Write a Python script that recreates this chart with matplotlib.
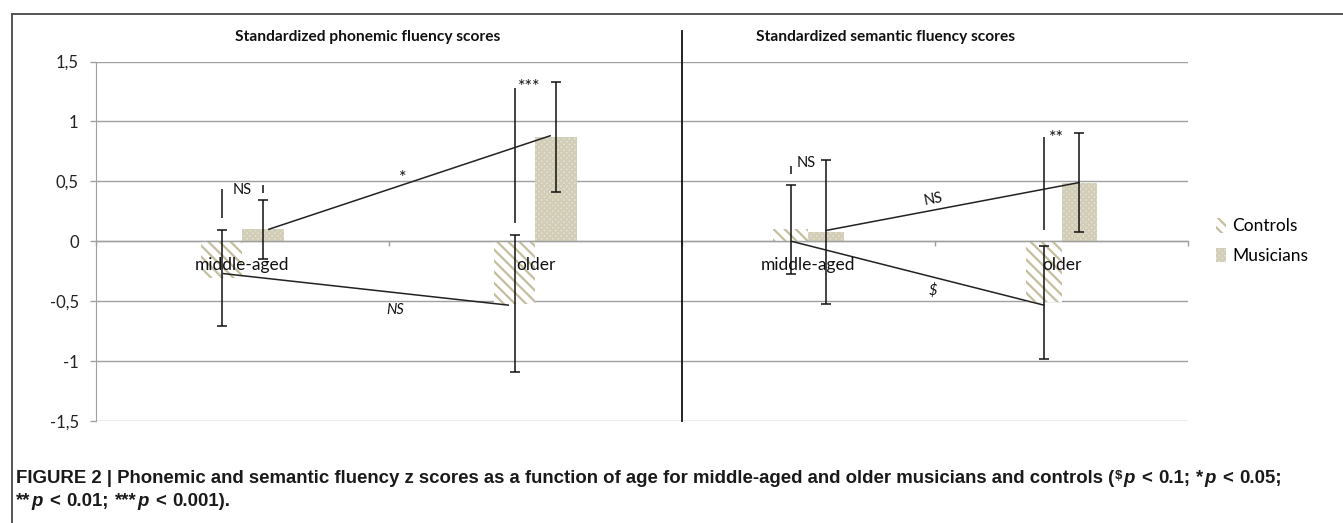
import math
import matplotlib
matplotlib.use("Agg")
import matplotlib.pyplot as plt
from matplotlib import font_manager as fm
from matplotlib.patches import Patch
from matplotlib.lines import Line2D

# ---------------- data ----------------
groups = ["middle-aged", "older"]
series = ["Controls", "Musicians"]
yticks = [-1.5, -1.0, -0.5, 0.0, 0.5, 1.0, 1.5]
ytick_labels = ["-1,5", "-1", "-0,5", "0", "0,5", "1", "1,5"]

phon_title = "Standardized phonemic fluency scores"
phon_controls = [-0.31, -0.52]
phon_musicians = [0.10, 0.87]
phon_controls_err = [0.40, 0.57]
phon_musicians_err = [0.245, 0.455]

sem_title = "Standardized semantic fluency scores"
sem_controls = [0.10, -0.51]
sem_musicians = [0.075, 0.49]
sem_controls_err = [0.37, 0.47]
sem_musicians_err = [0.60, 0.41]

# significance markers between controls and musicians (vertical strokes: series, group, low, high)
phon_sig_strokes = [(0, 0, 0.19, 0.44), (1, 0, 0.40, 0.47), (0, 1, 0.15, 1.28)]
phon_sig_labels = [("NS", 0.0, 0.43, 10.5), ("***", 0.98, 1.29, 13)]
sem_sig_strokes = [(0, 0, 0.56, 0.63), (0, 1, 0.09, 0.87)]
sem_sig_labels = [("NS", -0.01, 0.65, 10.5), ("**", 0.98, 0.86, 13)]

# age-trend lines: (x0, y0, x1, y1), label, label x, label y, italic, rotate, size
phon_trends = [((0.09, 0.10, 1.05, 0.88), "*", 0.548, 0.53, False, False, 13),
               ((-0.065, -0.27, 0.907, -0.533), "NS", 0.522, -0.57, True, False, 10.5)]
sem_trends = [((0.069, 0.09, 1.07, 0.49), "NS", 0.494, 0.35, False, True, 10.5),
              ((-0.068, 0.0, 0.93, -0.533), r"\$", 0.49, -0.41, True, False, 10.5)]

caption_line1 = "FIGURE 2 | Phonemic and semantic fluency z scores as a function of age for middle-aged and older musicians and controls ("

# ---------------- style ----------------
W, H = 1343, 523
FONT = "Lato"
plt.rcParams["font.family"] = [FONT, "DejaVu Sans"]
plt.rcParams["hatch.linewidth"] = 1.6
GRID = "#a0a0a0"
C_EDGE = "#c4be9f"
M_FACE = "#e4e1d1"
M_HATCH = "#d2cdb6"

fig = plt.figure(figsize=(W / 100, H / 100), dpi=100)


def fx(px):
    return px / W


def fy(py):
    return 1 - py / H


top_px, bot_px = 61.5, 421
axL = fig.add_axes([fx(96), fy(bot_px), fx(682) - fx(96), fy(top_px) - fy(bot_px)])
axR = fig.add_axes([fx(682), fy(bot_px), fx(1188) - fx(682), fy(top_px) - fy(bot_px)])

BW = 0.14


def draw_panel(ax, controls, musicians, c_err, m_err, strokes, sig_labels, trends, show_y):
    ax.set_xlim(-0.5, 1.5)
    ax.set_ylim(-1.5, 1.5)
    ax.set_yticks(yticks)
    ax.grid(axis="y", color=GRID, linewidth=1.0, zorder=0)
    ax.set_axisbelow(True)
    for s in ["top", "right"]:
        ax.spines[s].set_visible(False)
    ax.spines["bottom"].set_position(("data", 0))
    ax.spines["bottom"].set_color(GRID)
    ax.spines["bottom"].set_linewidth(1.0)
    ax.set_xticks([-0.5, 0.5, 1.5])
    ax.set_xticklabels([])
    ax.tick_params(axis="x", direction="out", length=3.5, color=GRID, width=1.0)
    if show_y:
        ax.spines["left"].set_color(GRID)
        ax.set_yticklabels(ytick_labels)
        ax.tick_params(axis="y", direction="out", length=4.5, color=GRID, width=1.0,
                       pad=8, labelsize=12, labelcolor="#222222")
    else:
        ax.spines["left"].set_visible(False)
        ax.tick_params(axis="y", length=0, labelleft=False)

    xc = [i - BW / 2 for i in range(len(groups))]
    xm = [i + BW / 2 for i in range(len(groups))]
    ax.bar(xc, controls, BW, facecolor="white", edgecolor=C_EDGE, hatch="\\\\\\",
           linewidth=0, zorder=2)
    ax.bar(xm, musicians, BW, facecolor=M_FACE, edgecolor=M_HATCH, hatch="xxxxxx",
           linewidth=0, zorder=2)
    ek = dict(fmt="none", ecolor="#111111", elinewidth=1.1, capsize=3.3, capthick=1.1, zorder=4)
    ax.errorbar(xc, controls, yerr=c_err, **ek)
    ax.errorbar(xm, musicians, yerr=m_err, **ek)

    for si, gi, lo, hi in strokes:
        x = gi + (-BW / 2 if si == 0 else BW / 2)
        ax.vlines(x, lo, hi, color="#111111", linewidth=1.1, zorder=4)
    for txt, x, y, sz in sig_labels:
        ax.text(x, y, txt, ha="center", va="center", fontsize=sz, color="#111111", zorder=5)

    for i, g in enumerate(groups):
        ax.text(i, -0.2, g, ha="center", va="center", fontsize=12.5, color="#111111", zorder=5)

    for (x0, y0, x1, y1), lab, lx, ly, ital, rot, sz in trends:
        ax.plot([x0, x1], [y0, y1], color="#222222", linewidth=1.1, zorder=4)
        angle = 0
        if rot:
            p0 = ax.transData.transform((x0, y0))
            p1 = ax.transData.transform((x1, y1))
            angle = math.degrees(math.atan2(p1[1] - p0[1], p1[0] - p0[0]))
        ax.text(lx, ly, lab, ha="center", va="center", fontsize=sz,
                style="italic" if ital else "normal", rotation=angle,
                rotation_mode="anchor", color="#111111", zorder=5)


draw_panel(axL, phon_controls, phon_musicians, phon_controls_err, phon_musicians_err,
           phon_sig_strokes, phon_sig_labels, phon_trends, True)
draw_panel(axR, sem_controls, sem_musicians, sem_controls_err, sem_musicians_err,
           sem_sig_strokes, sem_sig_labels, sem_trends, False)

# divider (right chart's value axis)
axR.add_line(Line2D([0, 0], [0, (bot_px - 31) / (bot_px - top_px)], transform=axR.transAxes,
                    color="#111111", linewidth=1.3, clip_on=False, zorder=6))

# titles
fig.text(fx(368), fy(37), phon_title, ha="center", va="center", fontsize=11.2,
         fontweight="bold", color="#111111")
fig.text(fx(885), fy(37), sem_title, ha="center", va="center", fontsize=11.2,
         fontweight="bold", color="#111111")

# legend
handles = [Patch(facecolor="white", edgecolor=C_EDGE, hatch="\\\\\\", linewidth=0),
           Patch(facecolor=M_FACE, edgecolor=M_HATCH, hatch="xxxxxx", linewidth=0)]
fig.legend(handles, series, loc="center left", bbox_to_anchor=(fx(1216), fy(241)),
           frameon=False, fontsize=12.5, handlelength=0.6, handleheight=0.9,
           handletextpad=0.35, labelspacing=0.75, borderpad=0, borderaxespad=0)

# frame of the figure panel
fig.add_artist(Line2D([fx(11.7), 1], [fy(14), fy(14)], color="#555555", linewidth=1.4))
fig.add_artist(Line2D([fx(11.7), fx(11.7)], [fy(14), 0], color="#555555", linewidth=1.4))

# caption with mixed runs
try:
    fm.findfont(fm.FontProperties(family="Liberation Sans Narrow"), fallback_to_default=False)
    CAP_FONT = "Liberation Sans Narrow"
except Exception:
    CAP_FONT = "Liberation Sans"

r = fig.canvas.get_renderer()


def run_width(s, size, style):
    t = fig.text(0, 0, s, fontsize=size, family=CAP_FONT, fontweight="bold", style=style)
    w = t.get_window_extent(r).width
    t.remove()
    return w


def caption_runs(size):
    sup = size * 0.7
    l1 = [(caption_line1, size, "normal", 0, 0), (r"\$", sup, "normal", 4, 0),
          ("p", size, "italic", 0, 0), ("<", size, "normal", 0, 1), ("0.1;", size, "normal", 0, 1),
          ("*", size, "normal", 1, 1), ("p", size, "italic", 0, 0), ("<", size, "normal", 0, 1),
          ("0.05;", size, "normal", 0, 1)]
    l2 = [("**", size, "normal", 1, 0), ("p", size, "italic", 0, 0), ("<", size, "normal", 0, 1),
          ("0.01;", size, "normal", 0, 1), ("***", size, "normal", 1, 1), ("p", size, "italic", 0, 0),
          ("<", size, "normal", 0, 1), ("0.001).", size, "normal", 0, 1)]
    return l1, l2


def layout(runs, size, draw=False, x0=15, ybase=0):
    sp = run_width("x x", size, "normal") - run_width("xx", size, "normal")
    x = x0
    for s, sz, st, dy, space_before in runs:
        x += sp * space_before + 1
        if draw:
            fig.text(fx(x), fy(ybase - dy), s, fontsize=sz, family=CAP_FONT, fontweight="bold",
                     style=st, va="baseline", ha="left", color="#1a1a1a")
        x += run_width(s, sz, st)
    return x


size = 11.0
l1, _ = caption_runs(size)
w1 = layout(l1, size) - 15
size = size * (1290 - 15) / w1
l1, l2 = caption_runs(size)
layout(l1, size, draw=True, ybase=483)
layout(l2, size, draw=True, ybase=506)

fig.savefig("out.png", dpi=100)
